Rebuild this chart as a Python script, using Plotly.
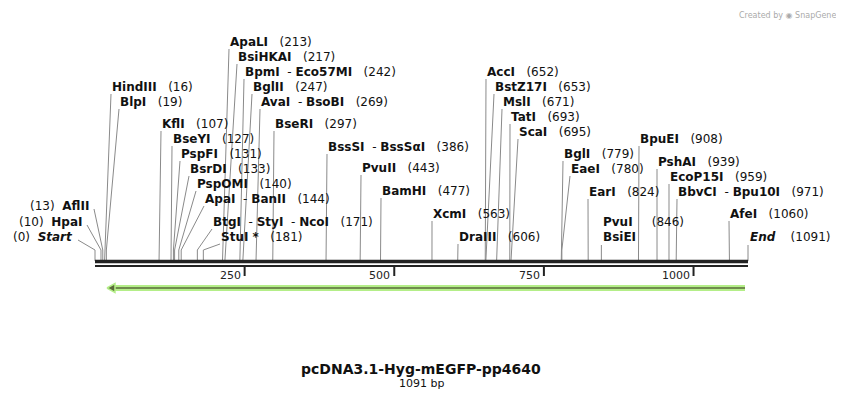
import plotly.graph_objects as go

# ---- data ----
seq_len = 1091
tick_vals = [250, 500, 750, 1000]
tick_labels = ["250", "500", "750", "1000"]
feature_start = 20
feature_end = 1086

enz_names = ["ApaLI", "BsiHKAI", "BpmI - Eco57MI", "BglII", "AvaI - BsoBI", "BseRI",
             "HindIII", "BlpI", "KflI", "BseYI", "PspFI", "BsrDI", "PspOMI",
             "ApaI - BanII", "BtgI - StyI - NcoI", "StuI *", "BssSI - BssSαI",
             "PvuII", "BamHI", "AccI", "BstZ17I", "MslI", "TatI", "ScaI",
             "XcmI", "DraIII", "BglI", "EaeI", "EarI", "BpuEI", "PshAI",
             "EcoP15I", "BbvCI - Bpu10I", "AfeI"]
enz_pos = [213, 217, 242, 247, 269, 297, 16, 19, 107, 127, 131, 133, 140, 144,
           171, 181, 386, 443, 477, 652, 653, 671, 693, 695, 563, 606, 779, 780,
           824, 908, 939, 959, 971, 1060]
lab_x = [228, 236, 243, 251, 259, 273, 110, 118, 160, 171, 179, 188, 195, 203,
         211, 219, 326, 360, 380, 485, 493, 501, 509, 517, 431, 457, 562, 569,
         587, 638, 656, 668, 676, 728]
lab_y = [42, 57, 72, 87, 102, 124, 87, 102, 124, 139, 154, 169, 184, 199,
         222, 237, 147, 168, 191, 72, 87, 102, 117, 132, 214, 237, 154, 169,
         192, 139, 162, 177, 192, 214]

left_names = ["AflII", "HpaI", "<i>Start</i>"]
left_pos = [13, 10, 0]
left_right = [91, 84, 75]
left_y = [206, 222, 237]

title = "pcDNA3.1-Hyg-mEGFP-pp4640"
subtitle = "1091 bp"

# ---- geometry helpers (page pixels; page body has 8px margin) ----
OFF = 8
W, H = 844 - OFF, 400 - OFF
X0, X1 = 95, 748
s = (X1 - X0) / seq_len
def px2bp(p):
    return (p - X0) / s

FONT = "DejaVu Sans, Verdana, sans-serif"
fig = go.Figure()

lx, ly = [], []
for n, p, x, y in zip(enz_names, enz_pos, lab_x, lab_y):
    lx += [px2bp(x + 1), p, p, None]
    ly += [y + 7, 250, 261, None]
for n, p, x, y in zip(left_names, left_pos, left_right, left_y):
    lx += [px2bp(x + 3), p, p, None]
    ly += [y + 3, 250, 261, None]
lx += [846, 846, None]; ly += [245, 261, None]
lx += [seq_len, seq_len, None]; ly += [245, 261, None]
fig.add_trace(go.Scatter(x=lx, y=ly, mode="lines", line=dict(color="#8a8a8a", width=1),
                         hoverinfo="skip"))

fig.add_trace(go.Scatter(x=[0, seq_len], y=[261.5, 261.5], mode="lines",
                         line=dict(color="#222", width=3.5), hoverinfo="skip"))
fig.add_trace(go.Scatter(x=[0, seq_len], y=[266, 266], mode="lines",
                         line=dict(color="#222", width=2), hoverinfo="skip"))
tx, ty = [], []
for t in tick_vals:
    tx += [t, t, None]; ty += [266, 276, None]
fig.add_trace(go.Scatter(x=tx, y=ty, mode="lines", line=dict(color="#222", width=2),
                         hoverinfo="skip"))
for t, l in zip(tick_vals, tick_labels):
    fig.add_annotation(x=t - 2 / s, y=275, text=l, showarrow=False, xanchor="right",
                       yanchor="middle", font=dict(family=FONT, size=11, color="#222"))

fig.add_trace(go.Scatter(x=[feature_start + 6 / s, feature_end], y=[288, 288], mode="lines",
                         line=dict(color="#b4ee88", width=6), hoverinfo="skip"))
fig.add_trace(go.Scatter(x=[feature_start + 6 / s, feature_end], y=[288, 288], mode="lines",
                         line=dict(color="#5a6a3a", width=1.5), hoverinfo="skip"))
fig.add_trace(go.Scatter(x=[feature_start, feature_start + 8 / s, feature_start + 8 / s, feature_start],
                         y=[288, 283.5, 292.5, 288], mode="lines", fill="toself",
                         fillcolor="#5a6a3a", line=dict(color="#b4ee88", width=1.5),
                         hoverinfo="skip"))

for n, p, x, y in zip(enz_names, enz_pos, lab_x, lab_y):
    parts = n.split(" - ")
    txt = " - ".join("<b>%s</b>" % q.replace(" *", "</b><b> *") for q in parts)
    txt = txt.replace(" - ", "&nbsp;&nbsp;-&nbsp;")
    fig.add_annotation(x=px2bp(x), y=y, text=txt + "&nbsp;&nbsp;&nbsp;(%d)" % p,
                       showarrow=False, xanchor="left", yanchor="middle",
                       font=dict(family=FONT, size=12, color="#111"))
for n, p, x, y in zip(left_names, left_pos, left_right, left_y):
    fig.add_annotation(x=px2bp(x), y=y, text="(%d)&nbsp;&nbsp;<b>%s</b>" % (p, n),
                       showarrow=False, xanchor="right", yanchor="middle",
                       font=dict(family=FONT, size=12, color="#111"))
fig.add_annotation(x=846, y=222, text="<b>PvuI</b>&nbsp;&nbsp;&nbsp;&nbsp;&nbsp;(846)", showarrow=False,
                   xanchor="left", yanchor="middle", font=dict(family=FONT, size=12, color="#111"))
fig.add_annotation(x=846, y=237, text="<b>BsiEI</b>", showarrow=False,
                   xanchor="left", yanchor="middle", font=dict(family=FONT, size=12, color="#111"))
fig.add_annotation(x=seq_len, y=237, text="<b><i>End</i></b>&nbsp;&nbsp;&nbsp;&nbsp;(%d)" % seq_len,
                   showarrow=False, xanchor="left", yanchor="middle",
                   font=dict(family=FONT, size=12, color="#111"))

fig.add_annotation(x=px2bp(421), y=369, text="<b>%s</b>" % title, showarrow=False,
                   font=dict(family=FONT, size=14, color="#111"), yanchor="middle")
fig.add_annotation(x=px2bp(421), y=383, text=subtitle, showarrow=False,
                   font=dict(family=FONT, size=11, color="#111"), yanchor="middle")
fig.add_annotation(x=px2bp(838), y=9, text="Created by ◉ SnapGene", showarrow=False,
                   xanchor="right", font=dict(family=FONT, size=8, color="#aaa"), yanchor="top")

fig.update_layout(width=W, height=H, margin=dict(l=0, r=0, t=0, b=0),
                  plot_bgcolor="white", paper_bgcolor="white", showlegend=False,
                  xaxis=dict(range=[px2bp(OFF), px2bp(844)], visible=False, fixedrange=True),
                  yaxis=dict(range=[400, OFF], visible=False, fixedrange=True))
fig.write_html("out.html")
